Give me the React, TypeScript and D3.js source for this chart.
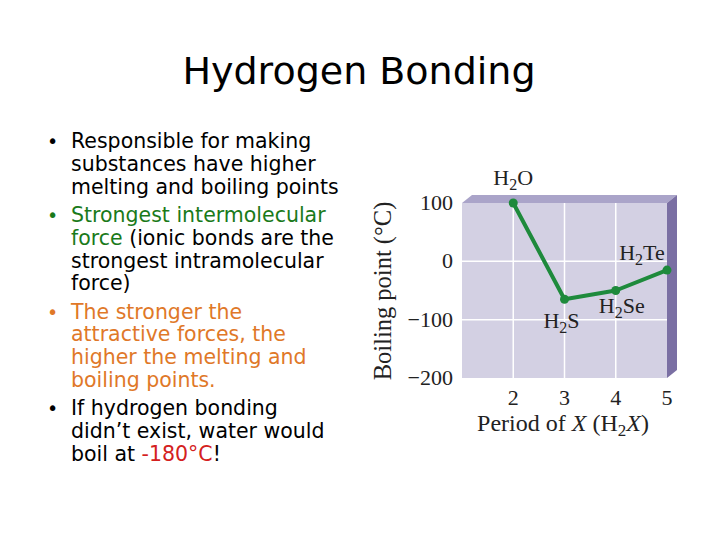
import React from "react"
import * as d3 from "d3"

// chart data
const periods = [2, 3, 4, 5]
const compounds = ["H2O", "H2S", "H2Se", "H2Te"]
const boilingPoints = [100, -65, -50, -15]
const yTicks = [100, 0, -100, -200]
const xTicks = [2, 3, 4, 5]
const xGrid = [2, 3, 4]
const yGrid = [0, -100]

// label offsets relative to the data point (dx, dy in px)
const labelOffsets: [number, number][] = [[0, -18], [-3, 29], [6, 22], [-25, -10]]

const bullets = [
  [
    [{ t: "Responsible for making", c: "#000" }],
    [{ t: "substances have higher", c: "#000" }],
    [{ t: "melting and boiling points", c: "#000" }],
  ],
  [
    [{ t: "Strongest intermolecular", c: "#1a7a1a" }],
    [{ t: "force", c: "#1a7a1a" }, { t: " (ionic bonds are the", c: "#000" }],
    [{ t: "strongest intramolecular", c: "#000" }],
    [{ t: "force)", c: "#000" }],
  ],
  [
    [{ t: "The stronger the", c: "#e07828" }],
    [{ t: "attractive forces, the", c: "#e07828" }],
    [{ t: "higher the melting and", c: "#e07828" }],
    [{ t: "boiling points.", c: "#e07828" }],
  ],
  [
    [{ t: "If hydrogen bonding", c: "#000" }],
    [{ t: "didn\u2019t exist, water would", c: "#000" }],
    [{ t: "boil at ", c: "#000" }, { t: "-180\u00b0C", c: "#d42020" }, { t: "!", c: "#000" }],
  ],
]
const bulletColors = ["#000", "#1a7a1a", "#e07828", "#000"]

const sans = "'DejaVu Sans', sans-serif"
const serif = "'Liberation Serif', 'DejaVu Serif', serif"

function Formula({ name, x, y }: { name: string; x: number; y: number }) {
  const parts = name.split("2")
  return (
    <text x={x} y={y} textAnchor="middle" fontFamily={serif} fontSize={22} fill="#222">
      {parts[0]}
      <tspan dy={5} fontSize={16}>2</tspan>
      <tspan dy={-5}>{parts[1]}</tspan>
    </text>
  )
}

export default function App() {
  const x = d3.scaleLinear().domain([1, 5]).range([462, 667])
  const y = d3.scaleLinear().domain([-200, 100]).range([378, 203])
  const depthX = 10
  const depthY = -8
  const [x0, x1] = x.range()
  const yTop = y(100)
  const yBot = y(-200)

  const line = d3.line<number>()
    .x((_, i) => x(periods[i]))
    .y(d => y(d))

  // bullet text layout
  const lineGap = 22.8
  const bulletGap = 5.5
  let baseline = 148
  const rows: React.ReactNode[] = []
  bullets.forEach((b, bi) => {
    rows.push(
      <text key={`b${bi}`} x={47} y={baseline} fontFamily={sans} fontSize={19} fill={bulletColors[bi]}>•</text>
    )
    b.forEach((ln, li) => {
      rows.push(
        <text key={`l${bi}-${li}`} x={71} y={baseline} fontFamily={sans} fontSize={20.5}>
          {ln.map((s, si) => <tspan key={si} fill={s.c}>{s.t}</tspan>)}
        </text>
      )
      baseline += lineGap
    })
    baseline += bulletGap
  })

  return (
    <svg width={720} height={540} style={{ position: "fixed", left: 0, top: 0, background: "#fff" }}>
      <text x={359} y={84} textAnchor="middle" fontFamily={sans} fontSize={38}>Hydrogen Bonding</text>
      {rows}

      {/* 3D box */}
      <polygon
        points={`${x0},${yTop} ${x0 + depthX},${yTop + depthY} ${x1 + depthX},${yTop + depthY} ${x1},${yTop}`}
        fill="#aaa4c9"
      />
      <polygon
        points={`${x1},${yTop} ${x1 + depthX},${yTop + depthY} ${x1 + depthX},${yBot + depthY} ${x1},${yBot}`}
        fill="#7a6fa3"
      />
      <rect x={x0} y={yTop} width={x1 - x0} height={yBot - yTop} fill="#d3d0e3" />
      {xGrid.map(v => (
        <line key={`gx${v}`} x1={x(v)} x2={x(v)} y1={yTop} y2={yBot} stroke="#fff" strokeWidth={1.5} />
      ))}
      {yGrid.map(v => (
        <line key={`gy${v}`} x1={x0} x2={x1} y1={y(v)} y2={y(v)} stroke="#fff" strokeWidth={1.5} />
      ))}

      <path d={line(boilingPoints) || ""} fill="none" stroke="#1e8a3c" strokeWidth={4} strokeLinejoin="round" />
      {boilingPoints.map((v, i) => (
        <circle key={`p${i}`} cx={x(periods[i])} cy={y(v)} r={4.5} fill="#1e8a3c" />
      ))}
      {compounds.map((c, i) => (
        <Formula key={c} name={c} x={x(periods[i]) + labelOffsets[i][0]} y={y(boilingPoints[i]) + labelOffsets[i][1]} />
      ))}

      {/* axes */}
      {yTicks.map(v => (
        <text key={`yt${v}`} x={453} y={y(v) + 7} textAnchor="end" fontFamily={serif} fontSize={22} fill="#222">
          {v < 0 ? `\u2212${-v}` : v}
        </text>
      ))}
      {xTicks.map(v => (
        <text key={`xt${v}`} x={x(v)} y={405} textAnchor="middle" fontFamily={serif} fontSize={22} fill="#222">{v}</text>
      ))}
      <text transform="translate(391,291) rotate(-90)" textAnchor="middle" fontFamily={serif} fontSize={24.5} fill="#222">
        Boiling point (°C)
      </text>
      <text x={563} y={431} textAnchor="middle" fontFamily={serif} fontSize={24} fill="#222">
        Period of <tspan fontStyle="italic">X</tspan> (H<tspan dy={5} fontSize={17}>2</tspan><tspan dy={-5} fontStyle="italic">X</tspan>)
      </text>
    </svg>
  )
}
